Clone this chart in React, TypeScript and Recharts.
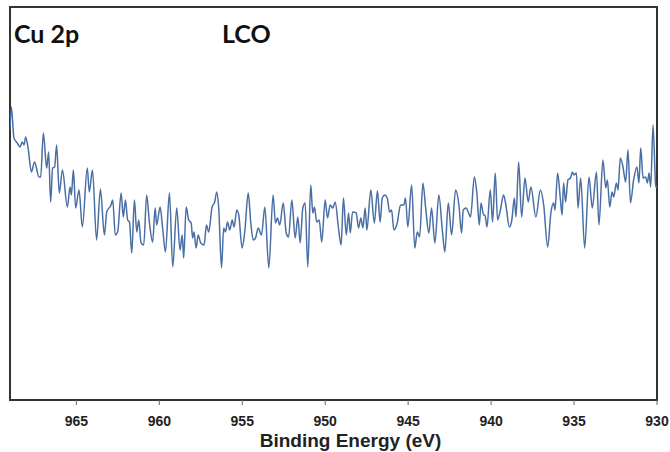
import React from "react";
import { LineChart, Line, XAxis, YAxis, ReferenceArea } from "recharts";

const bindingEnergy: number[] = [
  969.0, 968.92, 968.76, 968.56, 968.4, 968.26, 968.15, 968.06, 967.91, 967.71,
  967.52, 967.25, 967.15, 966.99, 966.79, 966.67, 966.55, 966.43, 966.31, 966.19,
  966.03, 965.84, 965.54, 965.38, 965.3, 965.18, 965.04, 964.84, 964.64, 964.34,
  964.22, 964.03, 963.78, 963.55, 963.31, 963.17, 962.91, 962.81, 962.65, 962.51,
  962.3, 962.17, 962.04, 961.91, 961.8, 961.66, 961.5, 961.36, 961.24, 961.1,
  960.94, 960.76, 960.6, 960.4, 960.25, 960.16, 959.95, 959.8, 959.63, 959.39,
  959.19, 958.95, 958.75, 958.62, 958.53, 958.38, 958.23, 958.08, 957.99, 957.91,
  957.78, 957.66, 957.5, 957.3, 957.16, 957.02, 956.82, 956.66, 956.54, 956.42,
  956.25, 956.12, 956.01, 955.89, 955.75, 955.61, 955.49, 955.33, 955.21, 955.01,
  954.85, 954.64, 954.49, 954.34, 954.2, 954.04, 953.84, 953.64, 953.4, 953.14,
  953.0, 952.88, 952.74, 952.53, 952.35, 952.21, 952.01, 951.81, 951.65, 951.51,
  951.35, 951.21, 951.05, 950.87, 950.75, 950.65, 950.51, 950.36, 950.21, 950.0,
  949.86, 949.7, 949.54, 949.4, 949.2, 949.04, 948.9, 948.73, 948.59, 948.49,
  948.35, 948.13, 947.99, 947.85, 947.73, 947.59, 947.49, 947.25, 947.04, 946.85,
  946.69, 946.56, 946.41, 946.26, 946.12, 946.0, 945.86, 945.66, 945.46, 945.26,
  945.16, 945.02, 944.79, 944.6, 944.45, 944.31, 944.11, 943.95, 943.75, 943.59,
  943.39, 943.15, 942.94, 942.79, 942.58, 942.38, 942.14, 941.94, 941.78, 941.68,
  941.5, 941.38, 941.24, 941.01, 940.86, 940.71, 940.61, 940.45, 940.37, 940.25,
  940.05, 939.91, 939.75, 939.61, 939.44, 939.25, 939.11, 938.9, 938.75, 938.6,
  938.5, 938.34, 938.16, 937.96, 937.76, 937.6, 937.3, 937.03, 936.83, 936.59,
  936.39, 936.23, 936.15, 935.99, 935.83, 935.72, 935.63, 935.51, 935.37, 935.22,
  935.1, 935.01, 934.86, 934.76, 934.6, 934.36, 934.1, 933.9, 933.65, 933.5,
  933.26, 933.09, 932.99, 932.85, 932.71, 932.61, 932.45, 932.35, 932.21, 932.05,
  931.89, 931.75, 931.6, 931.41, 931.21, 931.09, 930.98, 930.84, 930.68, 930.58,
  930.48, 930.38, 930.24, 930.08, 930.02,
];

const intensity: number[] = [
  270, 293, 262, 257, 253, 258, 255, 263, 252, 228,
  238, 223, 223, 267, 232, 248, 198, 232, 233, 255,
  207, 230, 193, 213, 205, 230, 192, 210, 173, 232,
  208, 230, 160, 211, 165, 188, 195, 200, 165, 168,
  207, 183, 200, 180, 178, 147, 200, 168, 180, 157,
  155, 205, 178, 158, 192, 175, 193, 172, 148, 207,
  133, 192, 150, 165, 142, 193, 180, 177, 162, 168,
  152, 165, 157, 155, 175, 168, 193, 198, 208, 192,
  132, 172, 168, 178, 170, 180, 173, 190, 185, 152,
  168, 207, 178, 160, 162, 172, 165, 193, 132, 205,
  177, 182, 175, 197, 167, 163, 200, 162, 183, 157,
  192, 197, 133, 215, 187, 193, 178, 180, 158, 200,
  182, 195, 192, 198, 172, 155, 202, 165, 187, 167,
  188, 187, 172, 182, 172, 192, 170, 210, 177, 209,
  178, 202, 205, 202, 188, 190, 170, 177, 195, 195,
  202, 173, 215, 152, 168, 163, 217, 193, 167, 192,
  157, 205, 170, 148, 197, 165, 210, 195, 167, 190,
  192, 188, 183, 223, 207, 175, 197, 185, 185, 173,
  210, 178, 227, 180, 190, 205, 195, 173, 180, 202,
  183, 238, 183, 222, 198, 213, 183, 210, 195, 153,
  188, 197, 190, 227, 202, 185, 217, 198, 220, 222,
  228, 225, 227, 192, 222, 152, 223, 192, 228, 175,
  240, 212, 220, 193, 208, 203, 217, 210, 242, 233,
  218, 250, 197, 220, 233, 217, 252, 222, 223, 217,
  227, 213, 275, 215, 212,
];

const xTicks: number[] = [965, 960, 955, 950, 945, 940, 935, 930];
const xDomain: [number, number] = [930, 969];
const yDomain: [number, number] = [0, 393];

const xTitle = "Binding Energy (eV)";
const elementLabel = "Cu 2p";
const sampleLabel = "LCO";

const data = bindingEnergy.map((be, i) => ({ be, counts: intensity[i] }));

export default function App() {
  const tickStyle = {
    fontFamily: "'Liberation Sans', Arial, sans-serif",
    fontWeight: 700,
    fontSize: 14,
    fill: "#222",
  };
  const labelStyle: React.CSSProperties = {
    position: "absolute",
    top: 21,
    fontFamily: "Lato, 'Open Sans', sans-serif",
    fontWeight: 700,
    fontSize: 25,
    color: "#111",
    lineHeight: 1,
  };
  return (
    <div style={{ position: "absolute", left: 0, top: 0, width: 670, height: 452, background: "#fff" }}>
      <LineChart
        width={670}
        height={452}
        data={data}
        margin={{ top: 7, right: 13, left: 10, bottom: 0 }}
      >
        <XAxis
          dataKey="be"
          type="number"
          domain={xDomain}
          reversed
          ticks={xTicks}
          interval={0}
          allowDataOverflow
          height={52}
          axisLine={{ stroke: "#333", strokeWidth: 2 }}
          tickSize={5}
          tickLine={{ stroke: "#666", strokeWidth: 1 }}
          tick={tickStyle}
          tickMargin={11}
          label={{
            value: xTitle,
            position: "insideBottom",
            offset: 5,
            dx: 17,
            style: {
              fontFamily: "'Liberation Sans', Arial, sans-serif",
              fontWeight: 700,
              fontSize: 19,
              fill: "#222",
            },
          }}
        />
        <YAxis domain={yDomain} width={0} hide allowDataOverflow />
        <ReferenceArea
          x1={xDomain[1]}
          x2={xDomain[0]}
          y1={yDomain[0]}
          y2={yDomain[1]}
          fill="none"
          fillOpacity={0}
          stroke="#333"
          strokeWidth={2}
          ifOverflow="visible"
        />
        <Line
          dataKey="counts"
          type="monotone"
          stroke="#4a6fa5"
          strokeWidth={1.5}
          dot={false}
          isAnimationActive={false}
        />
      </LineChart>
      <div style={{ ...labelStyle, left: 14 }}>{elementLabel}</div>
      <div style={{ ...labelStyle, left: 222 }}>{sampleLabel}</div>
    </div>
  );
}
